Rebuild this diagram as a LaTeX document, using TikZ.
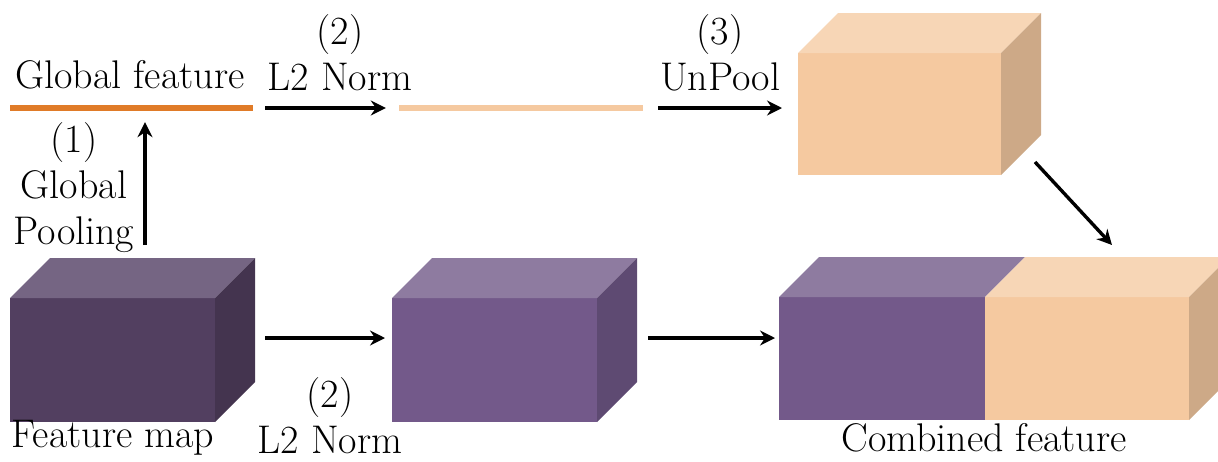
\documentclass[tikz,border=0pt]{standalone}
\usetikzlibrary{arrows.meta}

\definecolor{barorange}{HTML}{E07B28}
\definecolor{orfront}{HTML}{F5C9A0}
\definecolor{ortop}{HTML}{F7D6B6}
\definecolor{orside}{HTML}{CDA987}
\definecolor{pufront}{HTML}{73598A}
\definecolor{putop}{HTML}{8E7BA0}
\definecolor{puside}{HTML}{5E4A72}
\definecolor{dkfront}{HTML}{523F60}
\definecolor{dktop}{HTML}{756583}
\definecolor{dkside}{HTML}{44344F}

\tikzset{
  face/.style={draw=none, inner sep=0pt, outer sep=0pt, fill=#1},
  bar/.style={draw=none, inner sep=0pt, minimum height=6pt, fill=#1},
  lbl/.style={inner sep=0pt, align=center, font=\rmfamily\fontsize{40}{46}\selectfont},
  arr/.style={-{Stealth[length=15pt,width=15pt,inset=5pt]}, line width=3.4pt},
}

% top and side faces behind a front face node
\newcommand{\cubetop}[2]{%
  \fill[#2] (#1.north west) -- ++(40,-40) -- ([shift={(40,-40)}]#1.north east) -- (#1.north east) -- cycle;}
\newcommand{\cubeside}[2]{%
  \fill[#2] (#1.north east) -- ++(40,-40) -- ([shift={(40,-40)}]#1.south east) -- (#1.south east) -- cycle;}

\begin{document}
\begin{tikzpicture}[x=1pt,y=-1pt]
  \useasboundingbox (0,0) rectangle (1218,461);
  \clip (0,0) rectangle (1218,461);

  % bars
  \node[bar=barorange, minimum width=243pt] (gbar) at (131.5,108) {};
  \node[bar=orfront, minimum width=244pt] (nbar) at (521,108) {};

  % cubes
  \node[face=dkfront, minimum width=205pt, minimum height=124pt] (fmap) at (112.5,360) {};
  \cubetop{fmap}{dktop}
  \cubeside{fmap}{dkside}

  \node[face=pufront, minimum width=205pt, minimum height=124pt] (nmap) at (494.5,360) {};
  \cubetop{nmap}{putop}
  \cubeside{nmap}{puside}

  \node[face=orfront, minimum width=203pt, minimum height=122pt] (omap) at (899.5,114) {};
  \cubetop{omap}{ortop}
  \cubeside{omap}{orside}

  \node[face=pufront, minimum width=206pt, minimum height=123pt] (cpur) at (882,358.5) {};
  \node[face=orfront, minimum width=204pt, minimum height=123pt, anchor=west] (corg) at (cpur.east) {};
  \cubetop{cpur}{putop}
  \cubetop{corg}{ortop}
  \cubeside{corg}{orside}

  % labels
  \node[lbl] (tgf) at (130,75) {Global feature};
  \node[lbl] (tpool) at (74,188) {(1)\\Global\\Pooling};
  \node[lbl] (tnorm) at (340,53) {(2)\\L2 Norm};
  \node[lbl] (tunp) at (720,53) {(3)\\UnPool};
  \node[lbl] (tfm) at (113,438) {Feature map};
  \node[lbl] (tnorm2) at (330,416) {(2)\\L2 Norm};
  \node[lbl] (tcf) at (984,438) {Combined feature};

  % arrows
  \coordinate (pool) at (145,245);
  \draw[arr] (pool) -- (pool |- gbar.south) [shorten >=11pt];
  \draw[arr, shorten <=12pt, shorten >=13pt] (gbar.east) -- (nbar.west);
  \draw[arr, shorten <=15pt, shorten >=16pt] (nbar.east) -- (nbar.east -| omap.west);
  \draw[arr] ([shift={(34,-13)}]omap.south east) -- ([shift={(-77,-52)}]corg.north east);
  \draw[arr, shorten <=50pt, shorten >=7pt] ([shift={(0,-22)}]fmap.east) -- ([shift={(0,-22)}]nmap.west);
  \draw[arr, shorten <=51pt, shorten >=4pt] ([shift={(0,-22)}]nmap.east) -- ([shift={(0,-22)}]nmap.east -| cpur.west);
\end{tikzpicture}
\end{document}
